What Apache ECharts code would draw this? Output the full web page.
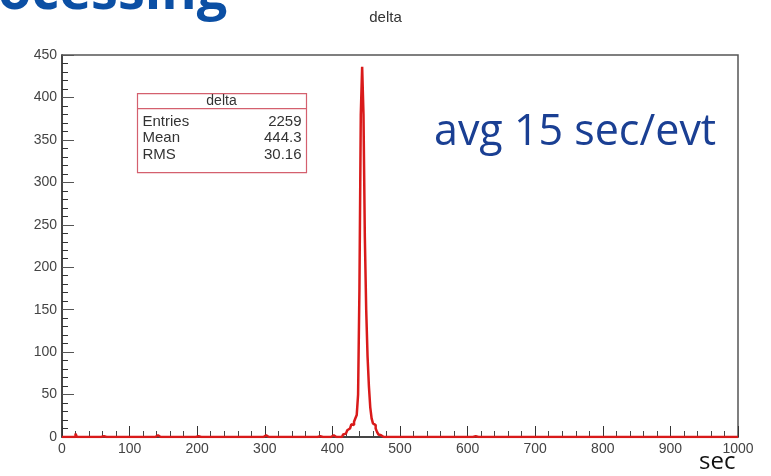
<!DOCTYPE html>
<html>
<head>
<meta charset="utf-8">
<title>delta</title>
<script src="https://cdn.jsdelivr.net/npm/echarts@6/dist/echarts.min.js"></script>
<style>
  html, body { margin: 0; padding: 0; background: #fff; }
  #chart { width: 771px; height: 476px; }
</style>
</head>
<body>
<div id="chart"></div>
<script>
// histogram of delta (sec), 2 sec bins, only non-empty bins listed
const binWidth = 2
const binStarts = [20, 60, 140, 200, 262, 300, 380, 400, 410,
  416, 418, 420, 422, 424, 426, 428, 430, 432, 434, 436, 438,
  440, 442, 444, 446, 448, 450, 452, 454, 456, 458, 460, 462, 464, 466, 468, 470,
  480, 492, 520, 610, 800]
const binCounts = [4, 1, 2, 1, 1, 2, 1, 2, 2,
  3, 4, 6, 8, 10, 12, 15, 14, 18, 22, 26, 50,
  175, 380, 436, 380, 235, 150, 95, 60, 35, 22, 16, 14, 10, 6, 3, 2,
  2, 1, 1, 1, 1]
const xTicks = [0, 1000, 100]
const yTicks = [0, 450, 50]

const statsRows = [['Entries', '2259'], ['Mean', '444.3'], ['RMS', '30.16']]

// fill the full axis with empty bins, then set the read counts
const hist = []
for (let x = 0; x <= 1000; x += binWidth) hist.push([x, 0])
binStarts.forEach((s, i) => { hist[s / binWidth][1] = binCounts[i] })

const chart = echarts.init(document.getElementById('chart'))

const statsBox = {
  type: 'group', left: 135, top: 93,
  children: [
    { type: 'rect', shape: { x: 0, y: 0, width: 169, height: 79 },
      style: { fill: '#fff', stroke: '#d4606e', lineWidth: 1.2 } },
    { type: 'line', shape: { x1: 0, y1: 15, x2: 169, y2: 15 },
      style: { stroke: '#d4606e', lineWidth: 1.2 } },
    { type: 'text', x: 84, y: 8,
      style: { text: 'delta', fontSize: 14, fontFamily: 'Liberation Sans', fill: '#333', align: 'center', verticalAlign: 'middle' } }
  ].concat(statsRows.flatMap((r, i) => [
    { type: 'text', x: 5, y: 28 + i * 16.5,
      style: { text: r[0], fontSize: 15, fontFamily: 'Liberation Sans', fill: '#333', verticalAlign: 'middle' } },
    { type: 'text', x: 164, y: 28 + i * 16.5,
      style: { text: r[1], fontSize: 15, fontFamily: 'Liberation Sans', fill: '#333', align: 'right', verticalAlign: 'middle' } }
  ]))
}

chart.setOption({
  animation: false,
  backgroundColor: '#fff',
  title: {
    text: 'delta', left: 'center', top: 5,
    textStyle: { fontSize: 15, fontWeight: 'normal', color: '#333', fontFamily: 'Liberation Sans' }
  },
  grid: {
    left: 62, right: 33, top: 55, bottom: 39,
    show: true, borderColor: '#555', borderWidth: 1.5
  },
  xAxis: {
    type: 'value', min: xTicks[0], max: xTicks[1], interval: xTicks[2],
    axisLine: { show: true, lineStyle: { color: '#333', width: 1.5 } },
    axisTick: { show: true, inside: true, length: 11, lineStyle: { color: '#333' } },
    minorTick: { show: true, splitNumber: 5, length: 6, lineStyle: { color: '#444' } },
    axisLabel: { color: '#444', fontSize: 14, fontFamily: 'Liberation Sans', margin: 5, formatter: v => String(v) },
    splitLine: { show: false }
  },
  yAxis: {
    type: 'value', min: yTicks[0], max: yTicks[1], interval: yTicks[2],
    axisLine: { show: true, lineStyle: { color: '#333', width: 1.5 } },
    axisTick: { show: true, inside: true, length: 12, lineStyle: { color: '#555' } },
    minorTick: { show: true, splitNumber: 5, length: 6, lineStyle: { color: '#333' } },
    axisLabel: { color: '#444', fontSize: 14, fontFamily: 'Liberation Sans', margin: 5 },
    splitLine: { show: false }
  },
  series: [{
    type: 'line', step: 'end', data: hist, symbol: 'none',
    lineStyle: { color: '#d91a1a', width: 2.5 }
  }],
  graphic: [
    { type: 'text', left: -2, top: -33,
      style: { text: 'ocessing', fontSize: 54, fontWeight: 'bold', fontFamily: 'Open Sans', fill: '#0b4fa4' } },
    { type: 'text', left: 434, top: 111,
      style: { text: 'avg 15 sec/evt', fontSize: 43, fontFamily: 'Open Sans', fill: '#1a3f93' } },
    { type: 'text', left: 699, top: 450,
      style: { text: 'sec', fontSize: 24, fontFamily: 'Open Sans', fill: '#111' } },
    statsBox
  ]
})
</script>
</body>
</html>
